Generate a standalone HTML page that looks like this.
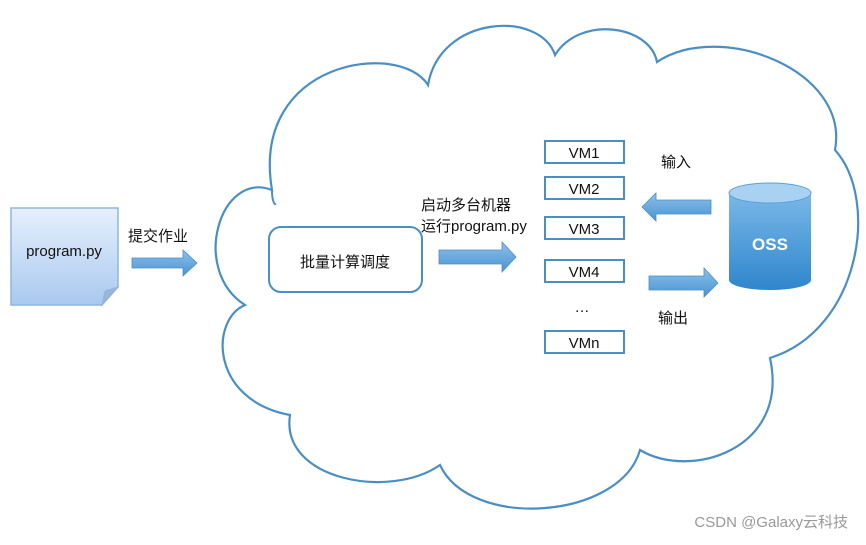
<!DOCTYPE html>
<html><head><meta charset="utf-8"><style>
body{margin:0;background:#fff;width:866px;height:540px;overflow:hidden;font-family:"Liberation Sans","Noto Sans CJK SC",sans-serif;}
</style></head><body>
<svg width="866" height="540" viewBox="0 0 866 540" xmlns="http://www.w3.org/2000/svg" font-family="Liberation Sans, Noto Sans CJK SC, sans-serif">
<defs>
<linearGradient id="pg" x1="0" y1="0" x2="0" y2="1"><stop offset="0" stop-color="#e6f0fc"/><stop offset="1" stop-color="#a9c9ef"/></linearGradient>
<linearGradient id="ar" x1="0" y1="0" x2="0" y2="1"><stop offset="0" stop-color="#8cc0ea"/><stop offset="1" stop-color="#4a94d2"/></linearGradient>
<linearGradient id="cy" x1="0" y1="0" x2="0" y2="1"><stop offset="0" stop-color="#7ab8e8"/><stop offset="1" stop-color="#2f86cc"/></linearGradient>
</defs>
<!-- cloud -->
<path d="M272,190 C250,60 400,40 428,85 C440,15 540,10 555,55 C580,15 650,25 657,62 C720,20 850,70 835,150 C880,200 860,330 770,358 C790,450 690,480 640,450 C620,520 470,530 440,465 C390,500 280,480 290,415 C210,400 210,320 245,305 C190,270 220,170 272,190 Z" fill="#fff" stroke="#4a8fc4" stroke-width="2.2"/>
<!-- inner arcs stubs -->
<path d="M272,190 C272,200 274,205 276,204" fill="none" stroke="#4a8fc4" stroke-width="2"/>
<!-- program.py -->
<path d="M11,208 L118,208 L118,287 L102,305 L11,305 Z" fill="url(#pg)" stroke="#8fb6e0" stroke-width="1.5"/>
<path d="M102,305 L105,291 L118,287 Z" fill="#9ab6d6" stroke="#8fb6e0"/>
<text x="64" y="256" font-size="15" text-anchor="middle" fill="#111">program.py</text>
<text x="128" y="241" font-size="15" fill="#111">提交作业</text>
<!-- arrows -->
<path d="M132,258 L183,258 L183,250 L197,263 L183,276 L183,268 L132,268 Z" fill="url(#ar)" stroke="#4a8fc4" stroke-width="0.8"/>
<path d="M439,250 L502,250 L502,242 L516,257 L502,272 L502,264 L439,264 Z" fill="url(#ar)" stroke="#4a8fc4" stroke-width="0.8"/>
<path d="M711,200 L656,200 L656,193 L642,207 L656,221 L656,214 L711,214 Z" fill="url(#ar)" stroke="#4a8fc4" stroke-width="0.8"/>
<path d="M649,276 L704,276 L704,268 L718,283 L704,297 L704,290 L649,290 Z" fill="url(#ar)" stroke="#4a8fc4" stroke-width="0.8"/>
<!-- scheduler -->
<rect x="269" y="227" width="153" height="65" rx="12" fill="#fff" stroke="#4a8fc4" stroke-width="2"/>
<text x="345" y="267" font-size="15" text-anchor="middle" fill="#111">批量计算调度</text>
<text x="421" y="210" font-size="15" fill="#111">启动多台机器</text>
<text x="421" y="231" font-size="15" fill="#111">运行program.py</text>
<!-- VMs -->
<g stroke="#4a8fc4" stroke-width="2" fill="#fff">
<rect x="545" y="141" width="79" height="22"/>
<rect x="545" y="177" width="79" height="22"/>
<rect x="545" y="217" width="79" height="22"/>
<rect x="545" y="260" width="79" height="22"/>
<rect x="545" y="331" width="79" height="22"/>
</g>
<g font-size="15" text-anchor="middle" fill="#111">
<text x="584" y="158">VM1</text><text x="584" y="194">VM2</text><text x="584" y="234">VM3</text><text x="584" y="277">VM4</text><text x="584" y="348">VMn</text>
<text x="582" y="312">…</text>
</g>
<text x="661" y="167" font-size="15" fill="#111">输入</text>
<text x="658" y="323" font-size="15" fill="#111">输出</text>
<!-- OSS -->
<path d="M729,193 L729,280 A41,10 0 0 0 811,280 L811,193 Z" fill="url(#cy)"/>
<ellipse cx="770" cy="193" rx="41" ry="10" fill="#a9d1f2" stroke="#5aa0d8"/>
<text x="770" y="250" font-size="17" font-weight="bold" text-anchor="middle" fill="#fff">OSS</text>
<text x="848" y="527" font-size="15" text-anchor="end" fill="#999">CSDN @Galaxy云科技</text>
</svg>
</body></html>
